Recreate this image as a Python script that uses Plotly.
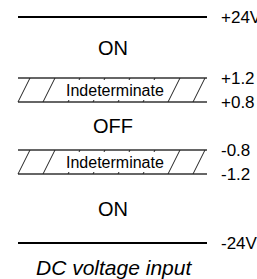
import plotly.graph_objects as go

# ---- data ----
levels = ["+24V", "+1.2", "+0.8", "-0.8", "-1.2", "-24V"]
regions = ["ON", "Indeterminate", "OFF", "Indeterminate", "ON"]
caption = "DC voltage input"

# ---- layout constants (pixel coordinates) ----
W, H = 257, 279
level_y = [17, 78, 102, 150, 174, 243]
x_left, x_right = 18, 207
label_x = 219
center_x = 113
hatch_step = 25
hatch_dx = 12
font = "Liberation Sans, Arial, sans-serif"

fig = go.Figure()

# solid limit lines (+24V, -24V)
for i in (0, 5):
    fig.add_trace(go.Scatter(x=[x_left, x_right], y=[level_y[i], level_y[i]],
                             mode="lines", line=dict(color="#000", width=1.8),
                             hoverinfo="skip", showlegend=False))

# indeterminate bands
bands = [(1, 2), (3, 4)]
for top, bot in bands:
    yt, yb = level_y[top], level_y[bot]
    for y in (yt, yb):
        fig.add_trace(go.Scatter(x=[x_left, x_right], y=[y, y], mode="lines",
                                 line=dict(color="#333", width=1.5),
                                 hoverinfo="skip", showlegend=False))
    hx, hy = [], []
    xb = x_left
    while xb + hatch_dx <= x_right:
        hx += [xb, xb + hatch_dx, None]
        hy += [yb, yt, None]
        xb += hatch_step
    fig.add_trace(go.Scatter(x=hx, y=hy, mode="lines",
                             line=dict(color="#222", width=1),
                             hoverinfo="skip", showlegend=False))
    fig.add_shape(type="rect", x0=64, x1=167, y0=yt + 2, y1=yb - 2,
                  fillcolor="white", line=dict(width=0), layer="above")

# level labels
for lab, y in zip(levels, level_y):
    fig.add_annotation(x=label_x, y=y, text=lab, showarrow=False,
                       xanchor="left", yanchor="middle",
                       font=dict(family=font, size=17, color="#000"))

# region labels
region_y = [
    (level_y[0] + level_y[1]) / 2,
    (level_y[1] + level_y[2]) / 2,
    (level_y[2] + level_y[3]) / 2,
    (level_y[3] + level_y[4]) / 2,
    (level_y[4] + level_y[5]) / 2,
]
for lab, y in zip(regions, region_y):
    size = 16 if lab == "Indeterminate" else 20
    cx = 115 if lab == "Indeterminate" else center_x
    fig.add_annotation(x=cx, y=y, text=lab, showarrow=False,
                       xanchor="center", yanchor="middle",
                       font=dict(family=font, size=size, color="#000"))

fig.add_annotation(x=center_x + 1, y=267, text="<i>" + caption + "</i>",
                   showarrow=False, xanchor="center", yanchor="middle",
                   font=dict(family=font, size=21, color="#000"))

fig.update_layout(width=W, height=H, margin=dict(l=0, r=0, t=0, b=0),
                  paper_bgcolor="white", plot_bgcolor="white",
                  xaxis=dict(range=[0, W], visible=False, fixedrange=True),
                  yaxis=dict(range=[H, 0], visible=False, fixedrange=True))

fig.write_html("out.html", config={"displayModeBar": False})

# remove default body margin so the figure sits at the window origin
with open("out.html", encoding="utf-8") as f:
    html = f.read()
html = html.replace("<body>", '<body style="margin:0;padding:0;overflow:hidden">', 1)
with open("out.html", "w", encoding="utf-8") as f:
    f.write(html)
